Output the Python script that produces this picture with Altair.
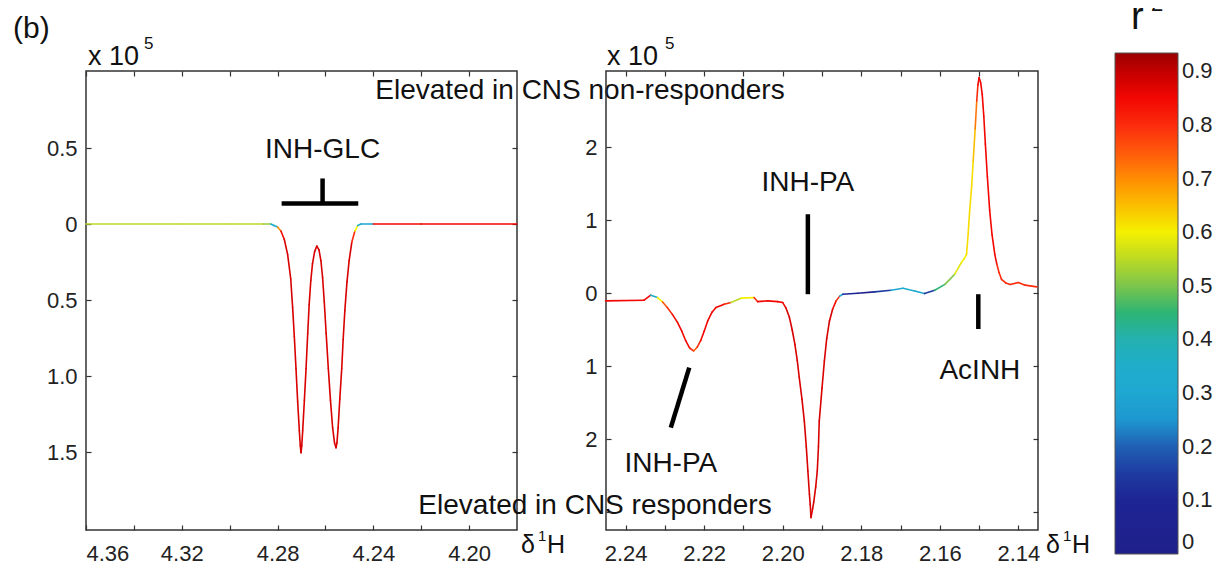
import altair as alt
import pandas as pd

FONT = "Liberation Sans"

# ---------------- data ----------------
# Left panel: chemical shift (ppm), intensity (x 10^5), r^2
left_ppm = [4.3600, 4.3200, 4.3000, 4.2860, 4.2828, 4.2815, 4.2800, 4.2786, 4.2772,
            4.2758, 4.2745, 4.2737, 4.2730, 4.2723, 4.2716, 4.2709, 4.2705, 4.2702,
            4.2699, 4.2695, 4.2688, 4.2681, 4.2674, 4.2668, 4.2661, 4.2654, 4.2645,
            4.2636, 4.2627, 4.2619, 4.2612, 4.2605, 4.2597, 4.2588, 4.2579, 4.2570,
            4.2562, 4.2556, 4.2552, 4.2547, 4.2540, 4.2532, 4.2526, 4.2519, 4.2510,
            4.2501, 4.2490, 4.2477, 4.2465, 4.2452, 4.2400, 4.2200, 4.1800]
left_int = [0.000, 0.000, 0.000, 0.000, 0.000, -0.010, -0.020, -0.046, -0.100,
            -0.200, -0.360, -0.550, -0.740, -0.950, -1.170, -1.360, -1.460, -1.505,
            -1.460, -1.360, -1.160, -0.950, -0.720, -0.530, -0.370, -0.260, -0.180,
            -0.145, -0.170, -0.240, -0.350, -0.510, -0.720, -0.950, -1.160, -1.340,
            -1.440, -1.472, -1.440, -1.340, -1.150, -0.950, -0.760, -0.570, -0.380,
            -0.240, -0.120, -0.046, -0.010, 0.000, 0.000, 0.000, 0.000]
left_r2 = [0.55, 0.55, 0.55, 0.52, 0.35, 0.35, 0.70, 0.85, 0.88,
           0.88, 0.88, 0.88, 0.88, 0.88, 0.88, 0.88, 0.88, 0.88,
           0.88, 0.88, 0.88, 0.88, 0.88, 0.88, 0.88, 0.88, 0.88,
           0.88, 0.88, 0.88, 0.88, 0.88, 0.88, 0.88, 0.88, 0.88,
           0.88, 0.88, 0.88, 0.88, 0.88, 0.88, 0.88, 0.88, 0.88,
           0.88, 0.80, 0.60, 0.35, 0.30, 0.85, 0.85, 0.85]

# Right panel
right_ppm = [2.2451, 2.2353, 2.2336, 2.2319, 2.2306, 2.2294, 2.2281, 2.2268, 2.2257,
             2.2247, 2.2237, 2.2227, 2.2218, 2.2209, 2.2200, 2.2191, 2.2180, 2.2170,
             2.2149, 2.2132, 2.2106, 2.2073, 2.2064, 2.2038, 2.2013, 2.2000, 2.1992,
             2.1983, 2.1976, 2.1969, 2.1963, 2.1958, 2.1951, 2.1945, 2.1940, 2.1936,
             2.1932, 2.1930, 2.1928, 2.1924, 2.1921, 2.1916, 2.1912, 2.1909, 2.1907,
             2.1900, 2.1894, 2.1888, 2.1881, 2.1873, 2.1864, 2.1855, 2.1847, 2.1809,
             2.1766, 2.1724, 2.1694, 2.1664, 2.1639, 2.1613, 2.1587, 2.1562, 2.1545,
             2.1538, 2.1532, 2.1528, 2.1524, 2.1519, 2.1515, 2.1510, 2.1506, 2.1503,
             2.1500, 2.1496, 2.1492, 2.1488, 2.1484, 2.1479, 2.1473, 2.1467, 2.1460,
             2.1455, 2.1449, 2.1443, 2.1432, 2.1421, 2.1400, 2.1383, 2.1353]
right_int = [-0.105, -0.096, -0.027, -0.060, -0.120, -0.197, -0.290, -0.400, -0.520,
             -0.650, -0.750, -0.790, -0.740, -0.650, -0.520, -0.380, -0.260, -0.197,
             -0.150, -0.128, -0.068, -0.060, -0.115, -0.105, -0.115, -0.128, -0.200,
             -0.330, -0.500, -0.700, -0.920, -1.150, -1.450, -1.750, -2.100, -2.430,
             -2.750, -2.890, -3.070, -2.950, -2.860, -2.650, -2.430, -2.100, -1.750,
             -1.300, -0.930, -0.620, -0.380, -0.220, -0.105, -0.040, -0.014, 0.000,
             0.018, 0.040, 0.068, 0.030, -0.005, 0.040, 0.120, 0.260, 0.420,
             0.470, 0.530, 0.800, 1.130, 1.450, 1.810, 2.250, 2.630, 2.850,
             2.950, 2.880, 2.720, 2.420, 2.040, 1.600, 1.130, 0.800, 0.530,
             0.400, 0.280, 0.190, 0.140, 0.120, 0.145, 0.110, 0.086]
right_r2 = [0.85, 0.85, 0.35, 0.60, 0.75, 0.80, 0.85, 0.85, 0.85,
            0.85, 0.80, 0.75, 0.80, 0.85, 0.85, 0.85, 0.85, 0.85,
            0.80, 0.55, 0.60, 0.80, 0.85, 0.85, 0.85, 0.85, 0.88,
            0.88, 0.88, 0.88, 0.88, 0.88, 0.88, 0.88, 0.88, 0.88,
            0.88, 0.88, 0.88, 0.88, 0.88, 0.88, 0.88, 0.88, 0.88,
            0.88, 0.88, 0.88, 0.88, 0.85, 0.80, 0.30, 0.12, 0.05,
            0.15, 0.30, 0.35, 0.30, 0.15, 0.45, 0.50, 0.58, 0.60,
            0.60, 0.62, 0.62, 0.62, 0.62, 0.65, 0.72, 0.80, 0.85,
            0.85, 0.85, 0.85, 0.85, 0.85, 0.85, 0.85, 0.85, 0.85,
            0.80, 0.80, 0.80, 0.80, 0.80, 0.80, 0.80, 0.80]

# Annotation bars (ppm, intensity)
left_bar_x = [4.2783, 4.2612]
left_bar_y = [0.136, 0.136]
left_bar_x2 = [4.2463, 4.2612]
left_bar_y2 = [0.136, 0.300]
left_lab_x = [4.2612]
left_lab_y = [0.487]
left_lab_t = ["INH-GLC"]

right_bar_x = [2.1936, 2.1502, 2.2238]
right_bar_y = [1.080, -0.014, -1.018]
right_bar_x2 = [2.1936, 2.1502, 2.2285]
right_bar_y2 = [-0.014, -0.490, -1.840]
right_lab_x = [2.1936, 2.1498, 2.2285]
right_lab_y = [1.510, -1.060, -2.340]
right_lab_t = ["INH-PA", "AcINH", "INH-PA"]

# Axes
left_xdom = [4.18, 4.36]
left_xlabels = [4.36, 4.32, 4.28, 4.24, 4.20]
left_xticks = [4.36, 4.34, 4.32, 4.30, 4.28, 4.26, 4.24, 4.22, 4.20]
left_ydom = [-2.013, 1.007]
left_yticks = [0.5, 0.0, -0.5, -1.0, -1.5]

right_xdom = [2.135, 2.245]
right_xlabels = [2.24, 2.22, 2.20, 2.18, 2.16, 2.14]
right_xticks = [2.24, 2.23, 2.22, 2.21, 2.20, 2.19, 2.18, 2.17, 2.16, 2.15, 2.14]
right_ydom = [-3.24, 3.04]
right_yticks = [2, 1, 0, -1, -2, -3]

cbar_values = [0, 0.1, 0.2, 0.3, 0.4, 0.5, 0.6, 0.7, 0.8, 0.9]

# jet-like colour map as seen on the colour bar
c_dom = [0, 0.12, 0.2, 0.26, 0.38, 0.45, 0.52, 0.6, 0.68, 0.78, 0.86, 0.934]
c_rng = ["#1f1f8a", "#1c2596", "#2060b4", "#1ea2d6", "#1fb0c8", "#2db574",
         "#9bcc3a", "#f4f000", "#ffa000", "#ff3a10", "#f00000", "#9a0000"]

W, H = 431, 459


def segments(ppm, val, r2):
    df = pd.DataFrame({"ppm": ppm, "val": val, "r2": r2})
    df["ppm2"] = df["ppm"].shift(-1)
    df["val2"] = df["val"].shift(-1)
    return df.dropna()


def ptext(t, x, y, size, align="left", baseline="alphabetic"):
    return alt.Chart(pd.DataFrame({"t": [t]})).mark_text(
        font=FONT, fontSize=size, align=align, baseline=baseline, color="#111"
    ).encode(x=alt.value(x), y=alt.value(y), text="t:N")


cscale = alt.Scale(domain=c_dom, range=c_rng, interpolate="rgb")
legend = alt.Legend(
    orient="none", legendX=1029, legendY=-18, direction="vertical",
    gradientLength=501, gradientThickness=63, title=None,
    values=cbar_values, labelFontSize=22, labelFont=FONT, labelColor="#222",
    labelBaseline="middle",
    labelExpr="datum.value == 0 ? '0' : format(datum.value, '.1f')",
    gradientStrokeColor="#555", gradientStrokeWidth=1, labelOffset=4,
)


def panel(seg, bars, labs, xdom, xlabels, xticks, ydom, yticks, ylabexpr, width, texts):
    xs = alt.Scale(domain=xdom, reverse=True, nice=False, zero=False)
    ys = alt.Scale(domain=ydom, nice=False, zero=False)
    curve = alt.Chart(seg).mark_rule(strokeWidth=1.6, strokeCap="round").encode(
        x=alt.X("ppm:Q", scale=xs, axis=alt.Axis(
            orient="bottom", values=xlabels, format=".2f", ticks=False, domain=False,
            grid=False, labelPadding=13, title=None)),
        x2="ppm2:Q",
        y=alt.Y("val:Q", scale=ys, axis=alt.Axis(
            orient="left", values=[v for v in yticks if v != -3], labelExpr=ylabexpr,
            ticks=False, domain=False, grid=False, labelPadding=9, title=None)),
        y2="val2:Q",
        color=alt.Color("r2:Q", scale=cscale, legend=legend),
    )
    bar = alt.Chart(bars).mark_rule(strokeWidth=4.5, color="#000").encode(
        x=alt.X("x:Q", scale=xs, axis=alt.Axis(
            orient="bottom", values=xticks, offset=-5, tickSize=5, labels=False,
            domain=False, grid=False, title=None)),
        x2="x2:Q",
        y=alt.Y("y:Q", scale=ys, axis=alt.Axis(
            orient="left", values=yticks, offset=-5, tickSize=5, labels=False,
            domain=False, grid=False, title=None)),
        y2="y2:Q",
    )
    lab = alt.Chart(labs).mark_text(font=FONT, fontSize=28, color="#111").encode(
        x=alt.X("x:Q", scale=xs, axis=alt.Axis(
            orient="top", values=xticks, offset=-5, tickSize=5, labels=False,
            domain=False, grid=False, title=None)),
        y=alt.Y("y:Q", scale=ys, axis=alt.Axis(
            orient="right", values=yticks, offset=-5, tickSize=5, labels=False,
            domain=False, grid=False, title=None)),
        text="t:N",
    )
    return alt.layer(curve, bar, lab, *texts).resolve_axis(
        x="independent", y="independent").properties(width=width, height=H)


left_seg = segments(left_ppm, left_int, left_r2)
right_seg = segments(right_ppm, right_int, right_r2)
left_bars = pd.DataFrame({"x": left_bar_x, "y": left_bar_y, "x2": left_bar_x2, "y2": left_bar_y2})
right_bars = pd.DataFrame({"x": right_bar_x, "y": right_bar_y, "x2": right_bar_x2, "y2": right_bar_y2})
left_labs = pd.DataFrame({"x": left_lab_x, "y": left_lab_y, "t": left_lab_t})
right_labs = pd.DataFrame({"x": right_lab_x, "y": right_lab_y, "t": right_lab_t})

left_texts = [
    ptext("(b)", -73, -33, 30),
    ptext("x 10", 2, -6, 27),
    ptext("5", 58, -22, 17),
    ptext("Elevated in CNS non-responders", 494, 20, 28, "center", "middle"),
    ptext("Elevated in CNS responders", 509, 435, 28, "center", "middle"),
    ptext("δ", 435, 482, 25),
    ptext("1", 452, 470, 15),
    ptext("H", 461, 482, 25),
]
right_texts = [
    ptext("x 10", 1, -6, 27),
    ptext("5", 59, -22, 17),
    ptext("δ", 440, 482, 25),
    ptext("1", 457, 470, 15),
    ptext("H", 466, 482, 25),
    ptext("r", 525, -42, 38),
    ptext("2", 545, -60, 22),
]

left = panel(left_seg, left_bars, left_labs, left_xdom, left_xlabels, left_xticks,
             left_ydom, left_yticks,
             "datum.value == 0 ? '0' : format(abs(datum.value), '.1f')", W, left_texts)
right = panel(right_seg, right_bars, right_labs, right_xdom, right_xlabels, right_xticks,
              right_ydom, right_yticks,
              "datum.value == 0 ? '0' : format(abs(datum.value), 'd')", 432, right_texts)

chart = alt.hconcat(left, right, spacing=89, bounds="flush").resolve_scale(
    color="shared"
).configure_view(
    stroke="#333", strokeWidth=1.5
).configure_axis(
    labelFont=FONT, labelFontSize=22, labelColor="#222", tickColor="#333", tickWidth=1.2
).properties(
    padding={"left": 4, "top": -16, "right": 0, "bottom": 0}
)

chart.save("out.html", embed_options={"renderer": "svg", "actions": False})
